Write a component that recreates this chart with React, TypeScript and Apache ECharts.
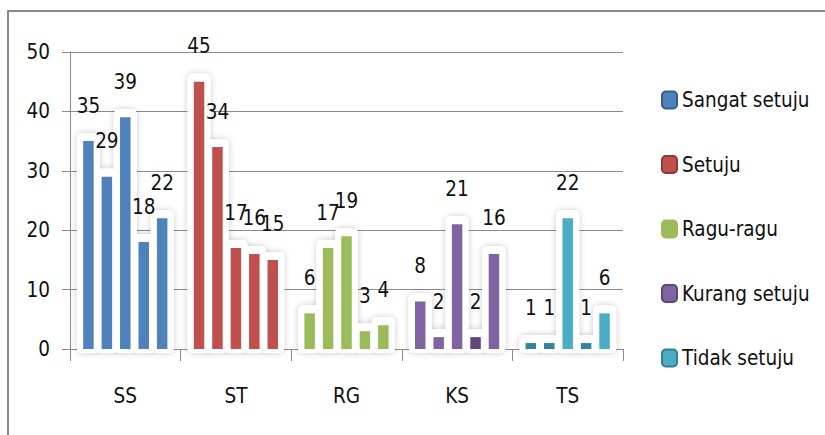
import React, { useEffect, useRef } from "react";
import * as echarts from "echarts";

const categories = ["SS", "ST", "RG", "KS", "TS"];
const seriesNames = ["Sangat setuju", "Setuju", "Ragu-ragu", "Kurang setuju", "Tidak setuju"];
const sangatSetuju = [35, 29, 39, 18, 22];
const setuju = [45, 34, 17, 16, 15];
const raguRagu = [6, 17, 19, 3, 4];
const kurangSetuju = [8, 2, 21, 2, 16];
const tidakSetuju = [1, 1, 22, 1, 6];
const yMin = 0;
const yMax = 50;
const yInterval = 10;

const allValues = [sangatSetuju, setuju, raguRagu, kurangSetuju, tidakSetuju];
const colors = ["#4F81BD", "#C0504D", "#9BBB59", "#8064A2", "#4BACC6"];
const darkColors = ["#385D8A", "#8C3836", "#9BBB59", "#5C4776", "#357D91"];
// bars drawn in the darker "flat" style in the reference
const darkItems: Record<string, string> = { "3-3": "#5F497A", "4-0": "#31859C", "4-1": "#31859C", "4-3": "#31859C" };

const FONT = "'DejaVu Sans Condensed', 'Liberation Sans Narrow', sans-serif";

export default function App() {
  const ref = useRef<HTMLDivElement>(null);
  useEffect(() => {
    if (!ref.current) return;
    const chart = echarts.init(ref.current, undefined, { renderer: "svg" });
    const perGroup = 6;
    const slotCount = categories.length * perGroup + 1;
    const slots: string[] = [];
    for (let s = 0; s < slotCount; s++) slots.push("s" + s);
    const slotOf = (g: number, k: number) => 1 + perGroup * g + k;

    const glowData: number[][] = [];
    allValues.forEach((vals, g) => vals.forEach((v, k) => glowData.push([slotOf(g, k), v])));

    const plotLeft = 70;
    const plotRight = 202;
    const plotW = 825 - plotLeft - plotRight;
    const slotW = plotW / (categories.length * perGroup);

    const barSeries = seriesNames.map((name, g) => {
      const data: any[] = new Array(slotCount).fill(null);
      allValues[g].forEach((v, k) => {
        const dk = darkItems[g + "-" + k];
        data[slotOf(g, k)] = dk ? { value: v, itemStyle: { color: dk } } : v;
      });
      return {
        name,
        type: "bar",
        xAxisIndex: 1,
        yAxisIndex: 1,
        barWidth: 10.5,
        barGap: "-100%",
        z: 4,
        itemStyle: { color: colors[g] },
        label: {
          show: true,
          position: "top",
          distance: 25,
          color: "#111",
          fontSize: 20.5,
          fontFamily: FONT,
        },
        data,
      };
    });

    const glowSeries = (withShadow: boolean, z: number) => ({
      type: "custom",
      xAxisIndex: 1,
      yAxisIndex: 1,
      z,
      silent: true,
      data: glowData,
      renderItem: (params: any, api: any) => {
        const top = api.coord([api.value(0), api.value(1)]);
        const bot = api.coord([api.value(0), 0]);
        const w = 23;
        return {
          type: "rect",
          shape: { x: top[0] - w / 2, y: top[1] - 8, width: w, height: bot[1] - top[1] + 12, r: 5 },
          style: withShadow
            ? { fill: "#fff", shadowBlur: 6, shadowColor: "rgba(0,0,0,0.22)" }
            : { fill: "#fff" },
        };
      },
    });

    chart.setOption({
      animation: false,
      backgroundColor: "#fff",
      graphic: [
        {
          type: "rect",
          shape: { x: 8, y: 11, width: 1000, height: 600 },
          style: { fill: "none", stroke: "#8a8a8a", lineWidth: 2 },
          silent: true,
          z: 0,
        },
      ],
      legend: {
        orient: "vertical",
        left: 656,
        top: 84,
        itemWidth: 15,
        itemHeight: 17,
        itemGap: 42.5,
        icon: "roundRect",
        textStyle: { fontFamily: FONT, fontSize: 20.5, color: "#111", lineHeight: 22 },
        data: seriesNames.map((name, g) => ({
          name,
          itemStyle: { color: colors[g], borderColor: darkColors[g], borderWidth: 2 },
        })),
      },
      grid: [
        { left: plotLeft, right: plotRight, top: 52, bottom: 86 },
        { left: plotLeft - slotW / 2, right: plotRight - slotW / 2, top: 52, bottom: 86 },
      ],
      xAxis: [
        {
          type: "category",
          gridIndex: 0,
          data: categories,
          axisLine: { show: true, lineStyle: { color: "#8a8a8a", width: 1 } },
          axisTick: { show: true, length: 12, lineStyle: { color: "#8a8a8a" } },
          axisLabel: { margin: 36, fontFamily: FONT, fontSize: 20.5, color: "#111" },
        },
        { type: "category", gridIndex: 1, data: slots, show: false },
      ],
      yAxis: [
        {
          type: "value",
          gridIndex: 0,
          min: yMin,
          max: yMax,
          interval: yInterval,
          axisLine: { show: true, lineStyle: { color: "#8a8a8a", width: 1 } },
          axisTick: { show: true, length: 8, lineStyle: { color: "#8a8a8a" } },
          splitLine: { show: true, lineStyle: { color: "#8a8a8a", width: 1 } },
          axisLabel: { margin: 20, fontFamily: FONT, fontSize: 20.5, color: "#111" },
        },
        { type: "value", gridIndex: 1, min: yMin, max: yMax, interval: yInterval, show: false, splitLine: { show: false } },
      ],
      series: [glowSeries(true, 2), glowSeries(false, 3), ...barSeries],
    });
    return () => chart.dispose();
  }, []);
  return <div ref={ref} style={{ position: "absolute", left: 0, top: 0, width: 825, height: 435 }} />;
}
